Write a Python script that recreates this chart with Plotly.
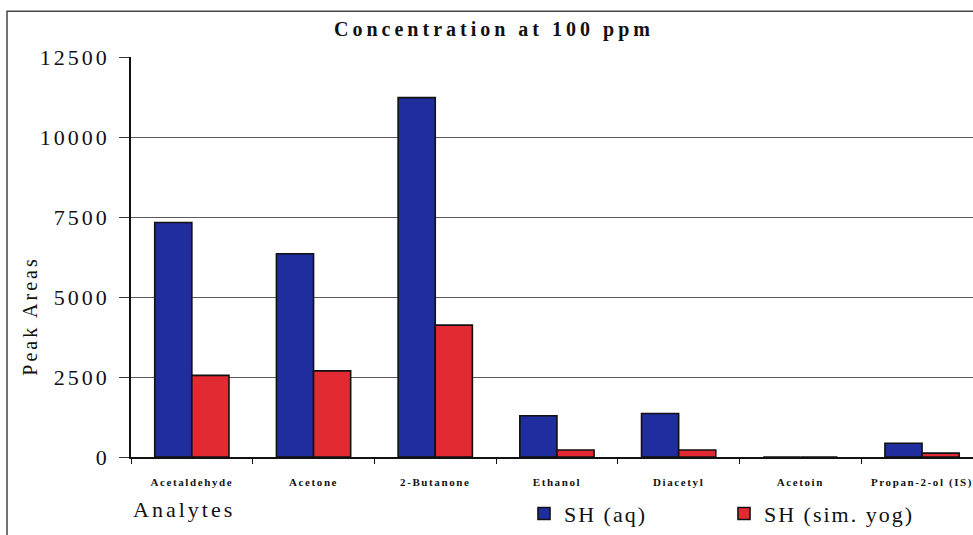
import plotly.graph_objects as go

# Peak areas of the analytes at 100 ppm
analytes = ["Acetaldehyde", "Acetone", "2-Butanone", "Ethanol",
            "Diacetyl", "Acetoin", "Propan-2-ol (IS)"]
sh_aq = [7330, 6350, 11230, 1290, 1360, 0, 430]
sh_sim_yog = [2550, 2690, 4120, 220, 220, 0, 120]
y_ticks = [0, 2500, 5000, 7500, 10000, 12500]

W, H = 973, 535
L, T, B, R = 131, 57, 76, 0
pw, ph = W - L - R, H - T - B

def px_x(p):
    return (p - L) / pw

def px_y(p):
    return (H - B - p) / ph

serif = "Liberation Serif"
blue = "#1f2d9f"
red = "#e22a33"

fig = go.Figure()
fig.add_trace(go.Bar(x=analytes, y=sh_aq, name="SH (aq)",
                     marker=dict(color=blue, line=dict(color="#111", width=1.6))))
fig.add_trace(go.Bar(x=analytes, y=sh_sim_yog, name="SH (sim. yog)",
                     marker=dict(color=red, line=dict(color="#111", width=1.6))))

fig.update_layout(
    width=W, height=H,
    margin=dict(l=L, r=R, t=T, b=B, pad=0),
    paper_bgcolor="white", plot_bgcolor="white",
    barmode="group", bargap=0.39, bargroupgap=0,
    title=dict(text="<b>Concentration at 100 ppm</b>", x=494 / W, xanchor="center",
               y=1 - 29 / H, yanchor="middle", xref="container", yref="container",
               font=dict(family=serif, size=20, color="#111")),
    font=dict(family=serif, color="#111"),
    showlegend=True,
    legend=dict(orientation="h", x=px_x(524), xanchor="left",
                y=px_y(516), yanchor="middle", entrywidth=155,
                font=dict(family=serif, size=22, color="#111"),
                bgcolor="rgba(0,0,0,0)", borderwidth=0),
    xaxis=dict(range=[-0.5, -0.5 + pw / 121.7], showgrid=False,
               showline=True, linecolor="#111", linewidth=1.5,
               ticks="outside", tickson="boundaries", ticklen=5,
               tickcolor="#111", tickwidth=1,
               tickfont=dict(family=serif, size=11, weight="bold", color="#111"),
               ticklabelstandoff=14),
    yaxis=dict(range=[0, 12500], tickvals=y_ticks,
               ticktext=[str(v) for v in y_ticks],
               showgrid=True, gridcolor="#5a5a5a", gridwidth=1,
               showline=True, linecolor="#111", linewidth=1.5,
               ticks="outside", ticklen=10, tickcolor="#333", tickwidth=1,
               tickfont=dict(family=serif, size=22, color="#111"),
               ticklabelstandoff=5, zeroline=False),
    annotations=[
        dict(text="Analytes", xref="paper", yref="paper",
             x=px_x(184), y=px_y(512), xanchor="center", yanchor="middle",
             showarrow=False, font=dict(family=serif, size=22, color="#111")),
        dict(text="Peak Areas", xref="paper", yref="paper",
             x=px_x(30), y=px_y(317), xanchor="center", yanchor="middle",
             textangle=-90, showarrow=False,
             font=dict(family=serif, size=20, color="#111")),
    ],
    shapes=[
        dict(type="rect", xref="paper", yref="paper",
             x0=px_x(7), x1=px_x(W + 20), y0=px_y(H + 20), y1=px_y(11),
             line=dict(color="#444", width=1.5), fillcolor="rgba(0,0,0,0)",
             layer="below"),
    ],
)

letter_spacing = (
    "var st=document.createElement('style');"
    "st.textContent='.gtitle{letter-spacing:4px}"
    " .ytick text{letter-spacing:3px}"
    " .xtick text{letter-spacing:1.6px}"
    " .legendtext{letter-spacing:2px}"
    " .annotation-text{letter-spacing:3px}';"
    "document.head.appendChild(st);"
)

fig.write_html("out.html", post_script=letter_spacing,
               config={"displayModeBar": False})
